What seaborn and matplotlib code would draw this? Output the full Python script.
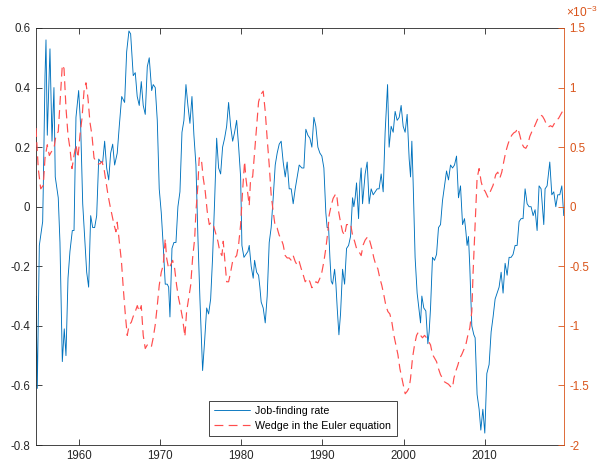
import numpy as np
import pandas as pd
import matplotlib
matplotlib.use("Agg")
import matplotlib.pyplot as plt
import seaborn as sns
from matplotlib.lines import Line2D
from matplotlib.ticker import FuncFormatter

# ---------------- data ----------------
years_job = [1954.75, 1954.91, 1955.16, 1955.57, 1955.65, 1955.86, 1955.98, 1956.14, 1956.47, 1956.72,
             1956.96, 1957.12, 1957.49, 1957.70, 1957.99, 1958.23, 1958.44, 1958.69, 1958.93, 1959.22,
             1959.43, 1959.67, 1960.00, 1960.25, 1960.50, 1960.74, 1960.99, 1961.23, 1961.48, 1961.73,
             1961.97, 1962.22, 1962.47, 1962.71, 1962.96, 1963.20, 1963.45, 1963.70, 1963.94, 1964.19,
             1964.43, 1964.75, 1965.00, 1965.30, 1965.66, 1965.91, 1966.19, 1966.40, 1966.72, 1966.97,
             1967.21, 1967.46, 1967.71, 1967.95, 1968.20, 1968.45, 1968.69, 1968.99, 1969.18, 1969.43,
             1969.68, 1969.92, 1970.17, 1970.41, 1970.66, 1970.91, 1971.08, 1971.24, 1971.49, 1971.73,
             1971.98, 1972.22, 1972.47, 1972.72, 1972.96, 1973.21, 1973.45, 1973.70, 1973.95, 1974.19,
             1974.44, 1974.68, 1974.93, 1975.09, 1975.26, 1975.51, 1975.76, 1976.00, 1976.25, 1976.49,
             1976.74, 1976.99, 1977.23, 1977.48, 1977.72, 1977.97, 1978.22, 1978.46, 1978.71, 1978.96,
             1979.20, 1979.45, 1979.70, 1979.94, 1980.10, 1980.35, 1980.59, 1980.84, 1981.00, 1981.24,
             1981.49, 1981.66, 1981.91, 1982.15, 1982.31, 1982.47, 1982.72, 1982.97, 1983.21, 1983.46,
             1983.70, 1983.95, 1984.20, 1984.44, 1984.69, 1984.93, 1985.18, 1985.43, 1985.67, 1985.92,
             1986.17, 1986.41, 1986.66, 1986.90, 1987.15, 1987.48, 1987.73, 1987.97, 1988.22, 1988.47,
             1988.71, 1988.96, 1989.20, 1989.45, 1989.70, 1989.94, 1990.19, 1990.43, 1990.59, 1990.77,
             1990.93, 1991.09, 1991.26, 1991.51, 1991.67, 1991.83, 1992.04, 1992.24, 1992.49, 1992.74,
             1992.98, 1993.23, 1993.47, 1993.72, 1993.88, 1994.04, 1994.21, 1994.46, 1994.62, 1994.78,
             1994.95, 1995.11, 1995.27, 1995.52, 1995.76, 1996.01, 1996.26, 1996.50, 1996.75, 1996.99,
             1997.24, 1997.49, 1997.73, 1998.03, 1998.22, 1998.47, 1998.72, 1998.96, 1999.21, 1999.46,
             1999.70, 1999.95, 2000.19, 2000.44, 2000.69, 2000.86, 2001.02, 2001.18, 2001.42, 2001.67,
             2001.92, 2002.09, 2002.25, 2002.49, 2002.74, 2002.99, 2003.15, 2003.32, 2003.56, 2003.81,
             2004.06, 2004.30, 2004.55, 2004.79, 2005.04, 2005.29, 2005.53, 2005.78, 2006.03, 2006.27,
             2006.52, 2006.76, 2007.01, 2007.26, 2007.50, 2007.66, 2007.82, 2007.99, 2008.15, 2008.40,
             2008.65, 2008.81, 2009.05, 2009.30, 2009.51, 2009.76, 2010.00, 2010.25, 2010.53, 2010.78,
             2011.02, 2011.27, 2011.52, 2011.76, 2012.01, 2012.25, 2012.50, 2012.75, 2012.99, 2013.24,
             2013.48, 2013.73, 2013.98, 2014.22, 2014.47, 2014.71, 2014.96, 2015.21, 2015.45, 2015.70,
             2015.95, 2016.19, 2016.44, 2016.68, 2016.93, 2017.26, 2017.42, 2017.67, 2018.00, 2018.25,
             2018.49, 2018.74, 2018.98, 2019.23, 2019.48, 2019.72]
job_finding = [-0.30, -0.61, -0.13, -0.05, 0.07, 0.44, 0.56, 0.24, 0.53, 0.22,
               0.40, 0.10, 0.03, -0.12, -0.52, -0.41, -0.50, -0.24, -0.15, -0.08,
               -0.08, 0.30, 0.39, 0.27, 0.01, -0.10, -0.22, -0.27, -0.03, -0.07,
               -0.07, -0.03, 0.16, 0.15, 0.15, 0.22, 0.13, 0.09, 0.18, 0.21,
               0.14, 0.18, 0.27, 0.37, 0.35, 0.52, 0.59, 0.58, 0.44, 0.45,
               0.37, 0.34, 0.42, 0.34, 0.31, 0.47, 0.50, 0.39, 0.41, 0.40,
               0.29, 0.06, -0.02, -0.13, -0.26, -0.26, -0.27, -0.37, -0.14, -0.12,
               -0.12, 0.00, 0.05, 0.25, 0.29, 0.41, 0.34, 0.28, 0.37, 0.24,
               0.14, -0.10, -0.31, -0.43, -0.55, -0.45, -0.34, -0.36, -0.31, -0.17,
               0.02, 0.23, 0.13, 0.11, 0.20, 0.23, 0.27, 0.35, 0.27, 0.22,
               0.25, 0.29, 0.20, 0.10, -0.13, -0.17, -0.16, -0.15, -0.13, -0.20,
               -0.24, -0.18, -0.22, -0.23, -0.27, -0.32, -0.34, -0.39, -0.30, -0.12,
               -0.07, 0.03, 0.14, 0.18, 0.21, 0.22, 0.15, 0.10, 0.15, 0.06,
               0.06, 0.01, 0.06, 0.10, 0.14, 0.13, 0.13, 0.26, 0.24, 0.23,
               0.20, 0.30, 0.27, 0.20, 0.18, 0.17, 0.13, -0.02, -0.07, -0.07,
               -0.17, -0.25, -0.26, -0.21, -0.26, -0.34, -0.43, -0.36, -0.21, -0.26,
               -0.14, -0.13, -0.10, 0.03, 0.00, 0.03, 0.08, -0.04, 0.08, 0.13,
               0.01, 0.06, 0.11, 0.15, 0.01, 0.06, 0.04, 0.05, 0.06, 0.06,
               0.11, 0.05, 0.25, 0.41, 0.20, 0.27, 0.25, 0.32, 0.29, 0.30,
               0.34, 0.27, 0.25, 0.31, 0.16, 0.10, 0.22, 0.08, -0.17, -0.29,
               -0.35, -0.39, -0.30, -0.34, -0.35, -0.46, -0.42, -0.34, -0.17, -0.18,
               -0.16, -0.07, -0.06, 0.02, 0.07, 0.12, 0.09, 0.14, 0.13, 0.14,
               0.17, 0.03, 0.07, -0.06, -0.04, -0.08, -0.13, -0.10, -0.20, -0.40,
               -0.43, -0.44, -0.63, -0.68, -0.75, -0.68, -0.76, -0.56, -0.53, -0.42,
               -0.37, -0.31, -0.29, -0.27, -0.22, -0.29, -0.19, -0.23, -0.17, -0.17,
               -0.16, -0.13, -0.13, -0.05, -0.04, -0.04, 0.06, 0.01, 0.00, 0.00,
               -0.03, -0.01, -0.08, 0.07, 0.06, -0.06, 0.06, 0.07, 0.15, 0.04,
               0.05, 0.00, 0.04, 0.04, 0.07, -0.03]

years_wedge = [1954.75, 1955.03, 1955.33, 1955.65, 1955.86, 1956.14, 1956.39, 1956.63, 1956.96, 1957.21,
               1957.49, 1957.79, 1957.99, 1958.20, 1958.44, 1958.69, 1958.93, 1959.18, 1959.43, 1959.67,
               1959.92, 1960.16, 1960.41, 1960.66, 1960.90, 1961.15, 1961.39, 1961.64, 1961.89, 1962.13,
               1962.38, 1962.63, 1962.87, 1963.12, 1963.36, 1963.61, 1963.86, 1964.10, 1964.35, 1964.59,
               1964.75, 1965.00, 1965.27, 1965.49, 1965.74, 1965.98, 1966.23, 1966.48, 1966.72, 1966.97,
               1967.22, 1967.46, 1967.71, 1967.95, 1968.20, 1968.45, 1968.69, 1968.94, 1969.18, 1969.43,
               1969.68, 1969.92, 1970.17, 1970.41, 1970.66, 1970.83, 1971.08, 1971.32, 1971.57, 1971.82,
               1972.06, 1972.31, 1972.56, 1972.80, 1973.08, 1973.29, 1973.54, 1973.79, 1974.03, 1974.28,
               1974.44, 1974.68, 1974.84, 1975.09, 1975.34, 1975.58, 1975.83, 1976.08, 1976.32, 1976.57,
               1976.81, 1977.14, 1977.39, 1977.64, 1977.80, 1978.04, 1978.22, 1978.46, 1978.71, 1978.95,
               1979.20, 1979.45, 1979.69, 1979.94, 1980.18, 1980.43, 1980.59, 1980.84, 1981.00, 1981.17,
               1981.42, 1981.66, 1981.91, 1982.15, 1982.40, 1982.72, 1982.97, 1983.21, 1983.46, 1983.70,
               1983.95, 1984.20, 1984.44, 1984.69, 1984.93, 1985.18, 1985.43, 1985.67, 1985.92, 1986.17,
               1986.41, 1986.66, 1986.90, 1987.15, 1987.40, 1987.64, 1987.89, 1988.22, 1988.47, 1988.71,
               1988.96, 1989.20, 1989.45, 1989.70, 1989.94, 1990.19, 1990.43, 1990.68, 1990.84, 1991.09,
               1991.33, 1991.58, 1991.75, 1992.00, 1992.24, 1992.49, 1992.74, 1992.98, 1993.23, 1993.47,
               1993.72, 1993.97, 1994.21, 1994.53, 1994.78, 1995.03, 1995.27, 1995.60, 1995.85, 1996.09,
               1996.34, 1996.59, 1996.83, 1997.08, 1997.32, 1997.57, 1997.82, 1998.07, 1998.31, 1998.56,
               1998.81, 1999.05, 1999.30, 1999.55, 1999.79, 2000.04, 2000.20, 2000.44, 2000.69, 2000.86,
               2001.10, 2001.35, 2001.60, 2001.84, 2002.09, 2002.33, 2002.58, 2002.83, 2003.07, 2003.32,
               2003.56, 2003.81, 2004.06, 2004.30, 2004.55, 2004.79, 2005.04, 2005.29, 2005.53, 2005.78,
               2006.03, 2006.19, 2006.43, 2006.68, 2006.93, 2007.17, 2007.42, 2007.66, 2007.91, 2008.15,
               2008.40, 2008.56, 2008.81, 2009.05, 2009.30, 2009.55, 2009.79, 2010.04, 2010.37, 2010.70,
               2011.02, 2011.35, 2011.60, 2011.85, 2012.09, 2012.34, 2012.58, 2012.83, 2013.08, 2013.32,
               2013.57, 2013.82, 2014.06, 2014.31, 2014.56, 2014.80, 2015.05, 2015.29, 2015.54, 2015.79,
               2016.03, 2016.28, 2016.53, 2016.86, 2017.10, 2017.35, 2017.59, 2017.84, 2018.08, 2018.33,
               2018.57, 2018.82, 2019.07, 2019.31, 2019.56, 2019.72]
# Euler-equation wedge, in units of 10^-3
wedge_e3 = [0.66, 0.32, 0.15, 0.18, 0.41, 0.52, 0.43, 0.46, 0.49, 0.60,
            0.63, 0.97, 1.19, 1.16, 0.83, 0.60, 0.49, 0.32, 0.43, 0.52,
            0.41, 0.60, 0.74, 0.97, 1.04, 0.91, 0.71, 0.60, 0.41, 0.38,
            0.36, 0.36, 0.38, 0.32, 0.21, 0.10, 0.01, -0.07, -0.15, -0.21,
            -0.13, -0.29, -0.46, -0.68, -0.90, -1.08, -0.99, -0.97, -0.92, -0.88,
            -0.83, -0.88, -0.83, -1.08, -1.19, -1.16, -1.16, -1.18, -1.10, -0.99,
            -0.83, -0.66, -0.55, -0.49, -0.27, -0.43, -0.52, -0.49, -0.45, -0.52,
            -0.66, -0.77, -0.85, -0.94, -1.09, -0.88, -0.77, -0.66, -0.43, -0.27,
            -0.04, 0.18, 0.41, 0.41, 0.24, 0.13, -0.04, -0.15, -0.13, -0.15,
            -0.21, -0.29, -0.38, -0.41, -0.29, -0.49, -0.63, -0.63, -0.55, -0.46,
            -0.43, -0.41, -0.32, -0.15, 0.13, 0.38, 0.24, 0.10, 0.01, 0.24,
            0.25, 0.46, 0.69, 0.88, 0.94, 0.97, 0.80, 0.57, 0.35, 0.10,
            -0.04, -0.17, -0.18, -0.24, -0.27, -0.32, -0.41, -0.43, -0.43, -0.45,
            -0.41, -0.46, -0.49, -0.46, -0.52, -0.57, -0.63, -0.60, -0.63, -0.68,
            -0.66, -0.63, -0.64, -0.60, -0.55, -0.46, -0.35, -0.21, -0.07, 0.01,
            0.07, 0.10, 0.11, -0.04, -0.13, -0.21, -0.24, -0.15, -0.15, -0.14,
            -0.24, -0.29, -0.35, -0.38, -0.41, -0.32, -0.28, -0.25, -0.29, -0.35,
            -0.43, -0.49, -0.52, -0.60, -0.66, -0.74, -0.83, -0.88, -0.90, -0.97,
            -1.08, -1.16, -1.24, -1.36, -1.44, -1.52, -1.57, -1.55, -1.52, -1.44,
            -1.27, -1.16, -1.08, -1.05, -1.08, -1.10, -1.08, -1.10, -1.13, -1.16,
            -1.24, -1.27, -1.30, -1.36, -1.41, -1.44, -1.47, -1.48, -1.49, -1.51,
            -1.52, -1.44, -1.38, -1.33, -1.27, -1.24, -1.20, -1.16, -1.08, -1.02,
            -0.88, -0.55, -0.15, 0.24, 0.32, 0.21, 0.15, 0.13, 0.08, 0.13,
            0.18, 0.27, 0.29, 0.24, 0.29, 0.38, 0.46, 0.52, 0.57, 0.60,
            0.62, 0.63, 0.66, 0.60, 0.53, 0.50, 0.49, 0.52, 0.59, 0.63,
            0.66, 0.70, 0.74, 0.77, 0.76, 0.73, 0.69, 0.67, 0.68, 0.67,
            0.70, 0.73, 0.74, 0.77, 0.80, 0.83]

x_ticks = [1960, 1970, 1980, 1990, 2000, 2010]
left_ticks = [-0.8, -0.6, -0.4, -0.2, 0, 0.2, 0.4, 0.6]
right_ticks = [-2, -1.5, -1, -0.5, 0, 0.5, 1, 1.5]
labels = ["Job-finding rate", "Wedge in the Euler equation"]

assert len(years_job) == len(job_finding), (len(years_job), len(job_finding))
assert len(years_wedge) == len(wedge_e3), (len(years_wedge), len(wedge_e3))

# ---------------- style ----------------
sns.set_style("white")
plt.rcParams["font.family"] = ["Liberation Sans", "DejaVu Sans"]
plt.rcParams["axes.unicode_minus"] = False
plt.rcParams["mathtext.fontset"] = "custom"
plt.rcParams["mathtext.rm"] = "Liberation Sans"
plt.rcParams["mathtext.it"] = "Liberation Sans"
plt.rcParams["mathtext.bf"] = "Liberation Sans"

BLUE = "#0072BD"
RED = "#FF4D4D"
ORANGE = "#D95319"
DARK = "#262626"

df_job = pd.DataFrame({"year": years_job, "value": job_finding})
df_wedge = pd.DataFrame({"year": years_wedge, "value": wedge_e3})

fig = plt.figure(figsize=(5.98, 4.62), dpi=100)
ax = fig.add_axes([36 / 598, 1 - 445 / 462, 528 / 598, 417 / 462])
ax2 = ax.twinx()

sns.lineplot(data=df_job, x="year", y="value", ax=ax, color=BLUE, linewidth=0.65,
             estimator=None, sort=False)
sns.lineplot(data=df_wedge, x="year", y="value", ax=ax2, color=RED, linewidth=0.85,
             estimator=None, sort=False)
DASH = [7.5, 4.5]
ax2.lines[0].set_dashes(DASH)

ax.set_xlim(1954.75, 2019.75)
ax.set_ylim(-0.8, 0.6)
ax2.set_ylim(-2, 1.5)
ax.set_xticks(x_ticks)
ax.set_yticks(left_ticks)
ax2.set_yticks(right_ticks)
fmt = FuncFormatter(lambda v, p: ("%g" % round(v, 4)))
ax.yaxis.set_major_formatter(fmt)
ax2.yaxis.set_major_formatter(fmt)
for a in (ax, ax2):
    a.set_xlabel("")
    a.set_ylabel("")

FS = 8.3
ax.tick_params(axis="x", direction="in", top=True, bottom=True, length=4, width=0.6,
               color=DARK, labelcolor=DARK, labelsize=FS, pad=3.5)
ax.tick_params(axis="y", direction="in", left=True, right=False, length=4, width=0.6,
               color=DARK, labelcolor=DARK, labelsize=FS, pad=4)
ax2.tick_params(axis="y", direction="in", right=True, left=False, length=4, width=0.6,
                color=ORANGE, labelcolor=ORANGE, labelsize=FS, pad=4)

for s in ("left", "bottom", "top"):
    ax.spines[s].set_color(DARK)
    ax.spines[s].set_linewidth(0.6)
    ax2.spines[s].set_visible(False)
ax.spines["right"].set_visible(False)
ax2.spines["right"].set_color(ORANGE)
ax2.spines["right"].set_linewidth(0.6)

ax2.text(1.003, 1.018, "\u00d710$^{-3}$", transform=ax2.transAxes, ha="left", va="bottom",
         fontsize=8.6, color=ORANGE)

handles = [Line2D([], [], color=BLUE, lw=0.65),
           Line2D([], [], color=RED, lw=0.85, dashes=DASH)]
leg = ax2.legend(handles, labels, loc="lower center", bbox_to_anchor=(0.505, 0.0),
                 borderaxespad=0.85, fontsize=7.7, handlelength=3.4, handletextpad=0.45,
                 labelspacing=0.42, borderpad=0.5, frameon=True, fancybox=False,
                 edgecolor=DARK, framealpha=1)
leg.get_frame().set_linewidth(0.6)
for t in leg.get_texts():
    t.set_color("#000000")

fig.savefig("out.png", dpi=100)
